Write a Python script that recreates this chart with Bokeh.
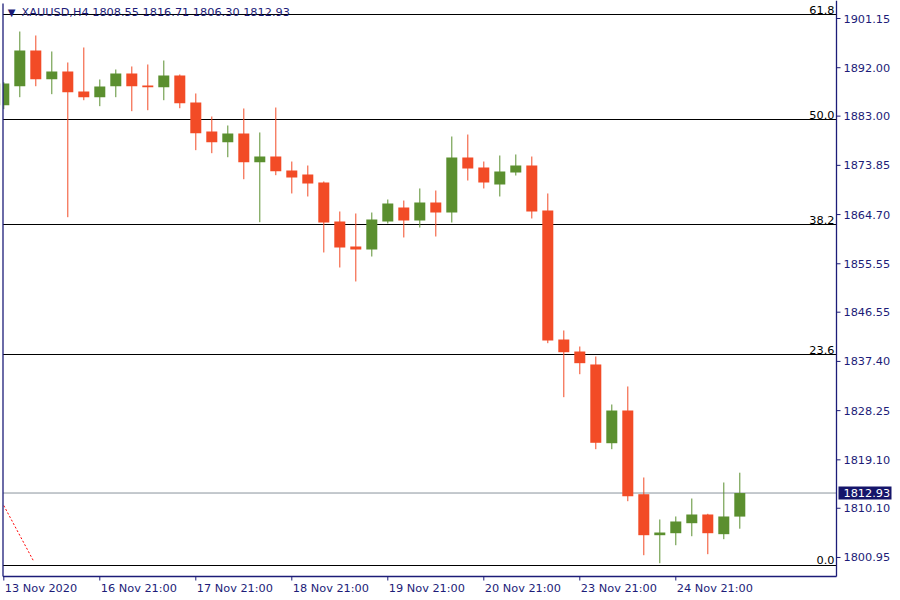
from bokeh.plotting import figure
from bokeh.models import ColumnDataSource, Range1d
from bokeh.core.properties import value
from bokeh.embed import file_html
from bokeh.resources import INLINE

# ---- data (XAUUSD, H4) ----
opens = [1885.03, 1888.56, 1895.20, 1889.87, 1891.30, 1887.58, 1886.52, 1888.56, 1890.92, 1888.69,
         1888.38, 1890.55, 1885.53, 1880.14, 1878.15, 1879.77, 1874.43, 1875.49, 1872.89, 1872.15,
         1870.66, 1863.41, 1858.76, 1858.20, 1863.41, 1866.01, 1863.60, 1866.94, 1865.08, 1875.31,
         1873.45, 1870.29, 1872.52, 1873.82, 1865.46, 1841.47, 1839.24, 1836.83, 1822.19, 1828.27,
         1812.71, 1805.09, 1805.46, 1807.32, 1808.94, 1805.28, 1808.55]
highs = [1889.31, 1898.73, 1897.99, 1895.02, 1892.97, 1895.76, 1889.81, 1891.67, 1892.23, 1892.60,
         1893.34, 1890.74, 1887.21, 1882.93, 1881.26, 1884.42, 1879.96, 1884.60, 1874.56, 1873.82,
         1870.85, 1865.27, 1864.90, 1865.08, 1867.50, 1867.31, 1869.55, 1869.17, 1879.21, 1879.58,
         1874.56, 1875.68, 1875.87, 1875.49, 1868.62, 1843.15, 1840.17, 1838.31, 1829.39, 1832.74,
         1815.82, 1808.01, 1808.57, 1811.91, 1809.07, 1814.89, 1816.71]
lows = [1884.29, 1886.52, 1888.56, 1887.08, 1864.21, 1885.96, 1884.85, 1886.52, 1883.92, 1884.10,
        1885.96, 1884.47, 1876.67, 1876.11, 1875.36, 1871.27, 1863.28, 1872.02, 1868.62, 1868.06,
        1857.65, 1854.86, 1852.26, 1856.90, 1863.04, 1860.44, 1862.29, 1860.62, 1863.22, 1871.03,
        1869.55, 1868.06, 1871.96, 1863.97, 1840.79, 1830.75, 1835.02, 1821.08, 1821.08, 1811.41,
        1801.37, 1799.88, 1803.23, 1804.90, 1801.56, 1804.35, 1806.30]
closes = [1889.07, 1895.20, 1889.87, 1891.30, 1887.45, 1886.52, 1888.51, 1890.92, 1888.56, 1888.38,
          1890.55, 1885.40, 1879.83, 1878.15, 1879.77, 1874.43, 1875.49, 1872.76, 1871.59, 1870.47,
          1863.22, 1858.58, 1858.20, 1863.78, 1866.76, 1863.60, 1866.94, 1865.08, 1875.31, 1873.26,
          1870.66, 1872.71, 1873.82, 1865.27, 1841.29, 1839.11, 1837.07, 1822.27, 1828.27, 1812.34,
          1805.09, 1805.59, 1807.64, 1808.94, 1805.46, 1808.57, 1812.93]

x_tick_pos = [0, 6, 12, 18, 24, 30, 36, 42]
x_tick_labels = ["13 Nov 2020", "16 Nov 21:00", "17 Nov 21:00", "18 Nov 21:00",
                 "19 Nov 21:00", "20 Nov 21:00", "23 Nov 21:00", "24 Nov 21:00"]
y_ticks = [1901.15, 1892.00, 1883.00, 1873.85, 1864.70, 1855.55, 1846.55,
           1837.40, 1828.25, 1819.10, 1810.10, 1800.95]

fib_names = ["0.0", "23.6", "38.2", "50.0", "61.8"]
fib_prices = [1799.46, 1838.68, 1862.85, 1882.37, 1901.89]

last_price = 1812.93
header = "XAUUSD,H4  1808.55 1816.71 1806.30 1812.93"

trend_x = [0.0, 1.875]
trend_y = [1810.6, 1800.2]

# ---- styles / layout ----
GREEN = "#5b8f2f"
RED = "#f24b26"
NAVY = "#1c1c78"
FONT = value("DejaVu Sans")
FS = "11.3px"

W, H = 900, 600
PXX = 1 / 16.0          # bar index per pixel
PXY = 0.18591           # price per pixel
X0 = -3.3 * PXX
X1 = X0 + W * PXX
Y_TOP = 1901.15 + 18 * PXY
Y_LOW = Y_TOP - H * PXY
XL = X0 + 2.5 * PXX     # chart left edge
XR = X0 + 836 * PXX     # chart right edge (price axis)
YB = Y_TOP - 576 * PXY  # chart bottom edge (time axis)

idx = list(range(len(opens)))
colors = [GREEN if c >= o else RED for o, c in zip(opens, closes)]
src = ColumnDataSource(dict(
    x=idx, high=highs, low=lows,
    top=[max(o, c) for o, c in zip(opens, closes)],
    bottom=[min(o, c) for o, c in zip(opens, closes)],
    color=colors,
))

p = figure(frame_width=W, frame_height=H, min_border=0,
           x_range=Range1d(X0, X1), y_range=Range1d(Y_LOW, Y_TOP),
           x_axis_location=None, y_axis_location=None,
           output_backend="svg", toolbar_location=None,
           background_fill_color="white", border_fill_color="white",
           outline_line_color=None)
p.xgrid.visible = False
p.ygrid.visible = False

# fib levels
n_f = len(fib_prices)
p.segment(x0=[XL] * n_f, x1=[XR] * n_f, y0=fib_prices, y1=fib_prices,
          line_color="black", line_width=1.2)
p.text(x=[XR - 2 * PXX] * n_f, y=[v + 1 * PXY for v in fib_prices], text=fib_names,
       text_align="right", text_baseline="bottom", text_color="black",
       text_font=FONT, text_font_size=FS)

# current price line
p.segment(x0=[XL], x1=[XR], y0=[last_price], y1=[last_price], line_color="#8a939c", line_width=1)

# dotted trend line
p.line(trend_x, trend_y, line_color="red", line_dash="2 2", line_width=1)

# candles
p.segment(x0="x", y0="low", x1="x", y1="high", source=src, line_color="color", line_width=1)
p.vbar(x="x", width=11 * PXX, top="top", bottom="bottom", source=src,
       fill_color="color", line_color=None)

# white cover left of chart border (clip first candle)
p.quad(left=[X0], right=[XL], bottom=[Y_LOW], top=[Y_TOP], fill_color="white", line_color=None)

# chart frame lines
p.segment(x0=[XL, XL, XR], x1=[XL, XR, XR],
          y0=[YB, YB, YB], y1=[Y_TOP - 3 * PXY, YB, Y_TOP],
          line_color=NAVY, line_width=1.3)

# time axis ticks + labels
n_x = len(x_tick_pos)
p.segment(x0=x_tick_pos, x1=x_tick_pos, y0=[YB] * n_x, y1=[YB - 4 * PXY] * n_x,
          line_color=NAVY, line_width=1)
p.text(x=[t + 1 * PXX for t in x_tick_pos], y=[YB - 5 * PXY] * n_x, text=x_tick_labels,
       text_align="left", text_baseline="top", text_color=NAVY,
       text_font=FONT, text_font_size=FS)

# price axis ticks + labels
n_y = len(y_ticks)
p.segment(x0=[XR] * n_y, x1=[XR + 4 * PXX] * n_y, y0=y_ticks, y1=y_ticks,
          line_color=NAVY, line_width=1)
p.text(x=[XR + 7 * PXX] * n_y, y=y_ticks, text=["%.2f" % v for v in y_ticks],
       text_align="left", text_baseline="middle", text_color=NAVY,
       text_font=FONT, text_font_size=FS)

# current price tag
p.quad(left=[XR + 2 * PXX], right=[XR + 55 * PXX],
       bottom=[last_price - 6.5 * PXY], top=[last_price + 6.5 * PXY],
       fill_color="#15156a", line_color=None)
p.text(x=[XR + 7 * PXX], y=[last_price], text=["%.2f" % last_price],
       text_align="left", text_baseline="middle", text_color="white",
       text_font=FONT, text_font_size=FS)

# header
p.text(x=[X0 + 11 * PXX], y=[Y_TOP - 11.5 * PXY], text=["\u25bc"],
       text_align="center", text_baseline="middle", text_color=NAVY,
       text_font=FONT, text_font_size="10px")
p.text(x=[X0 + 21 * PXX], y=[Y_TOP - 12 * PXY], text=[header],
       text_align="left", text_baseline="middle", text_color=NAVY,
       text_font=FONT, text_font_size=FS)

open("out.html", "w").write(file_html(p, INLINE))
